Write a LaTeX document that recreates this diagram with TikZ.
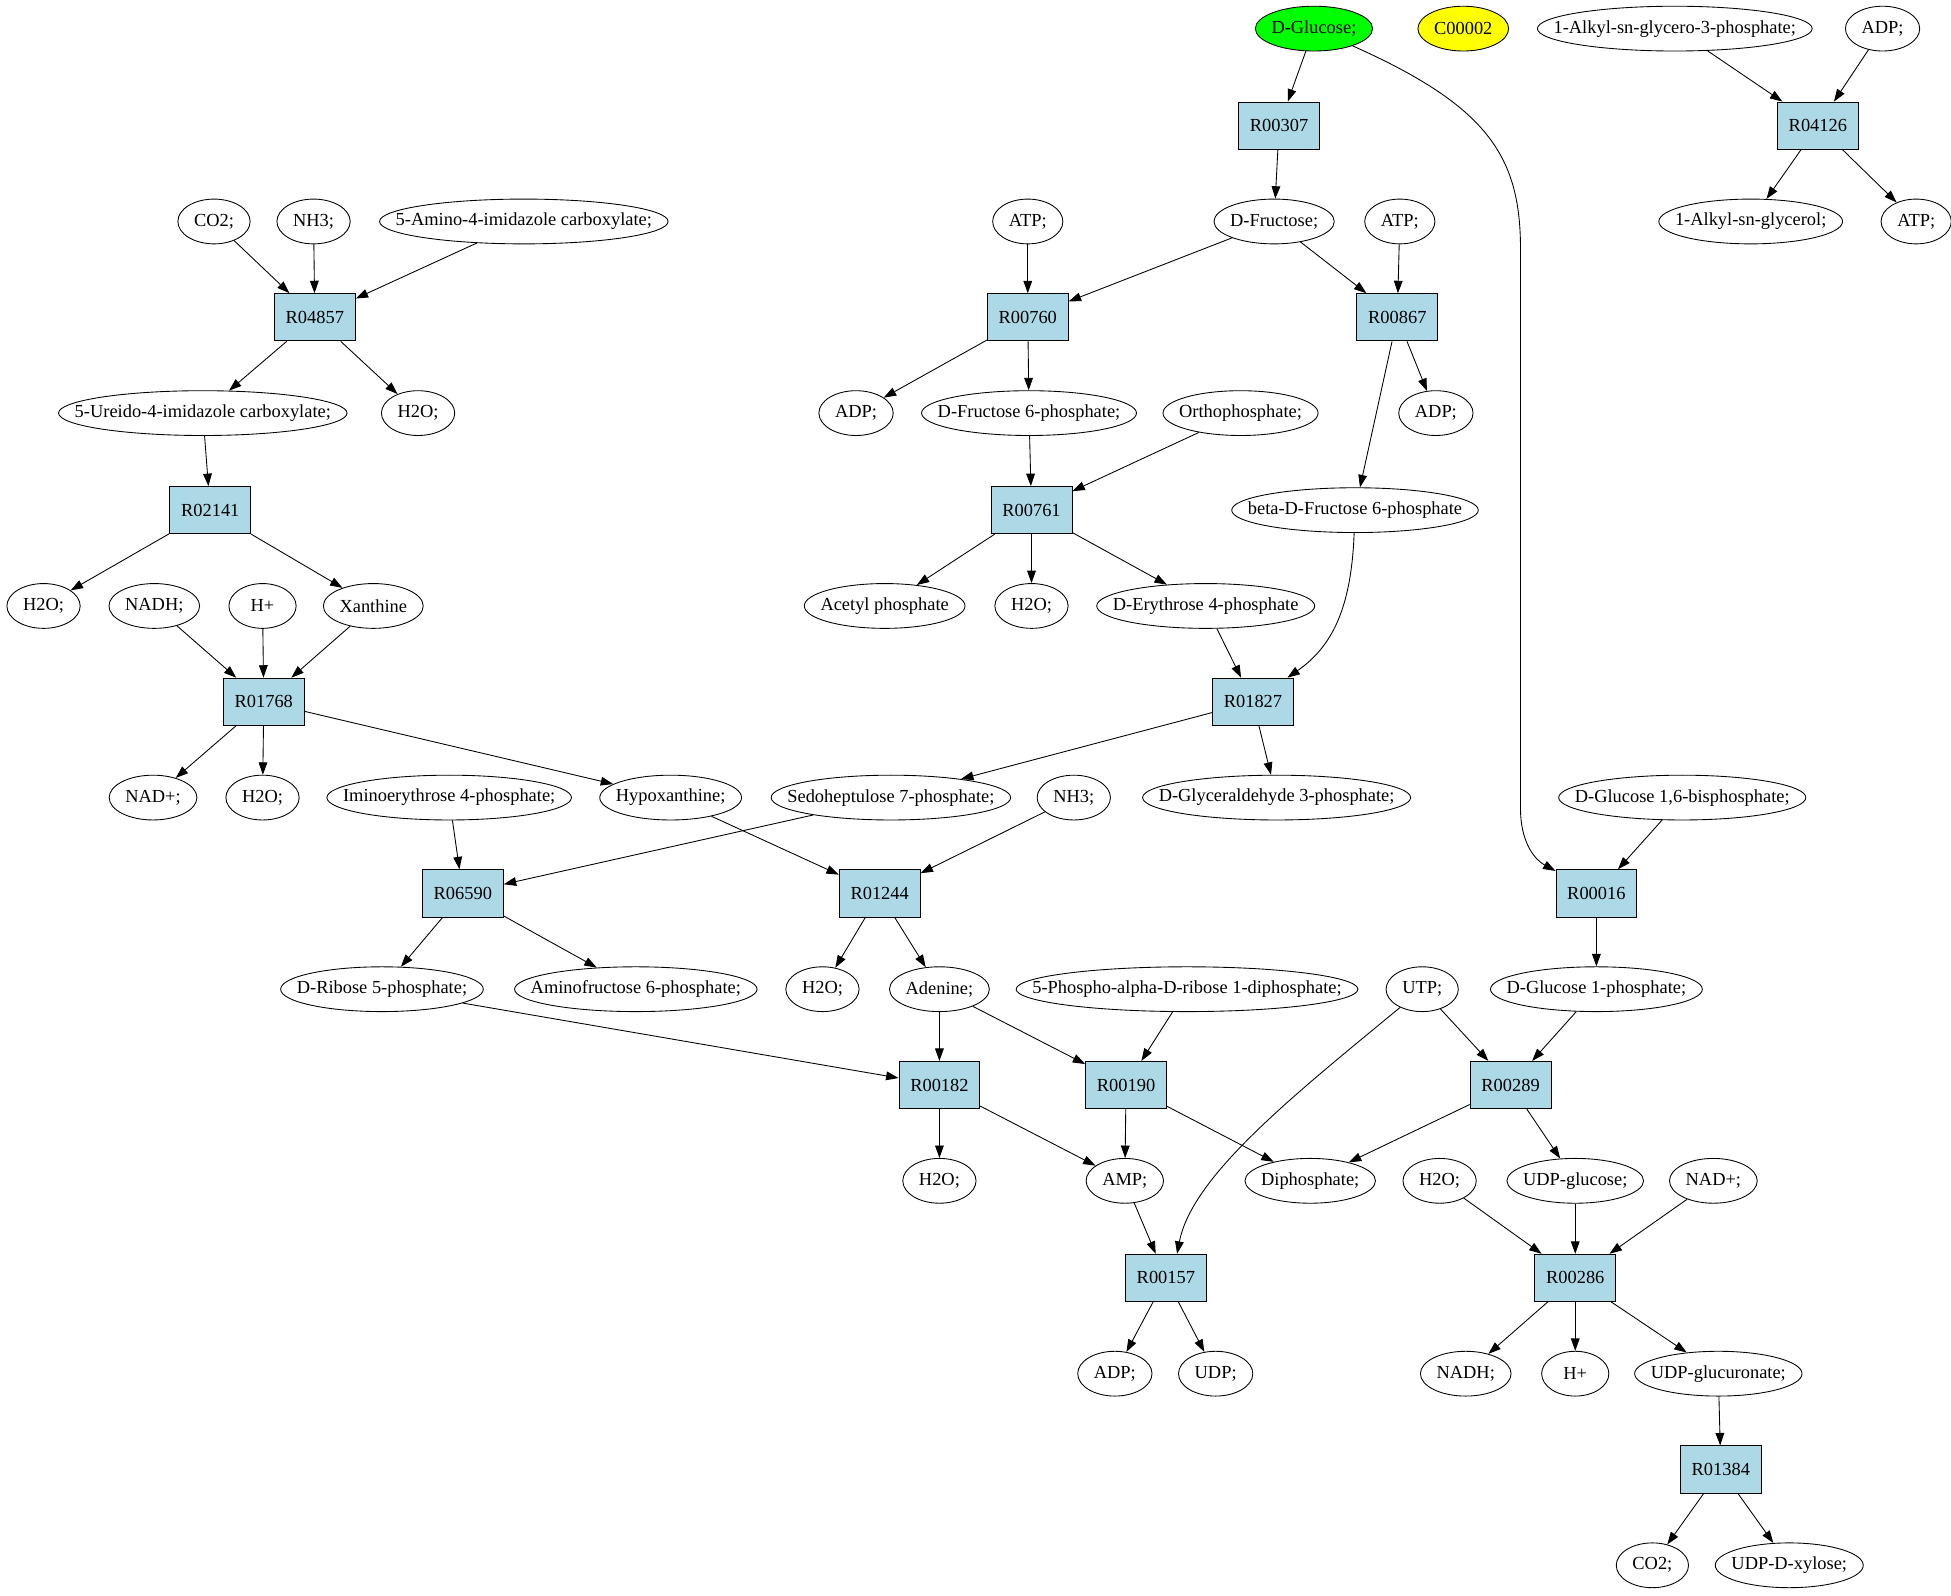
\documentclass[tikz,border=0pt]{standalone}
\usepackage{fontspec}
\setmainfont{Liberation Serif}
\usetikzlibrary{shapes.geometric,arrows.meta}

\definecolor{rxnblue}{HTML}{ADD8E6}
\definecolor{glcgreen}{HTML}{00FF00}
\definecolor{cpdyellow}{HTML}{FFFF00}

\tikzset{
  cpd/.style={ellipse, draw, line width=0.7pt, minimum height=36pt, minimum width=54pt,
    inner ysep=0pt, inner xsep={9.19pt-0.14645*\wd\pgfnodeparttextbox}},
  rxn/.style={rectangle, draw, line width=0.7pt, fill=rxnblue, minimum width=65pt,
    minimum height=38pt, inner sep=0pt},
  link/.style={line width=0.7pt, -{Triangle[length=10pt,width=7pt]}}
}

\begin{document}
\begin{tikzpicture}[x=1pt, y=-1pt, font=\fontsize{14.8}{17}\selectfont]
  \useasboundingbox (0,0) rectangle (1568,1282);

  % top row
  \node[cpd, fill=glcgreen] (glc) at (1056,23) {D-Glucose;};
  \node[cpd, fill=cpdyellow] (c00002) at (1176,23) {C00002};
  \node[cpd] (alkylgp) at (1346,23) {1-Alkyl-sn-glycero-3-phosphate;};
  \node[cpd] (adp1) at (1513,23) {ADP;};
  \node[rxn] (r00307) at (1028,101) {R00307};
  \node[rxn] (r04126) at (1461,101) {R04126};

  \node[cpd] (co2a) at (172,178) {CO2;};
  \node[cpd] (nh3a) at (252,178) {NH3;};
  \node[cpd] (amino) at (421,178) {5-Amino-4-imidazole carboxylate;};
  \node[cpd] (atp1) at (826,178) {ATP;};
  \node[cpd] (fru) at (1024,178) {D-Fructose;};
  \node[cpd] (atp2) at (1125,178) {ATP;};
  \node[cpd] (alkylg) at (1407,178) {1-Alkyl-sn-glycerol;};
  \node[cpd] (atp3) at (1540,178) {ATP;};
  \node[rxn] (r04857) at (253,255) {R04857};
  \node[rxn] (r00760) at (826,255) {R00760};
  \node[rxn] (r00867) at (1123,255) {R00867};

  \node[cpd] (ureido) at (163,332) {5-Ureido-4-imidazole carboxylate;};
  \node[cpd] (h2oa) at (336,332) {H2O;};
  \node[cpd] (adp2) at (688,332) {ADP;};
  \node[cpd] (f6p) at (827,332) {D-Fructose 6-phosphate;};
  \node[cpd] (ortho) at (997,332) {Orthophosphate;};
  \node[cpd] (adp3) at (1154,332) {ADP;};
  \node[rxn] (r02141) at (169,410) {R02141};
  \node[rxn] (r00761) at (829,410) {R00761};
  \node[cpd] (bf6p) at (1089,410) {beta-D-Fructose 6-phosphate};

  \node[cpd] (h2ob) at (35,487) {H2O;};
  \node[cpd] (nadh1) at (124,487) {NADH;};
  \node[cpd] (hplus1) at (211,487) {H+};
  \node[cpd] (xan) at (300,487) {Xanthine};
  \node[cpd] (acp) at (711,487) {Acetyl phosphate};
  \node[cpd] (h2oc) at (829,487) {H2O;};
  \node[cpd] (e4p) at (969,487) {D-Erythrose 4-phosphate};
  \node[rxn] (r01768) at (212,564) {R01768};
  \node[rxn] (r01827) at (1007,564) {R01827};

  \node[cpd] (nad1) at (123,641) {NAD+;};
  \node[cpd] (h2od) at (211,641) {H2O;};
  \node[cpd] (imino) at (361,641) {Iminoerythrose 4-phosphate;};
  \node[cpd] (hypo) at (539,641) {Hypoxanthine;};
  \node[cpd] (s7p) at (716,641) {Sedoheptulose 7-phosphate;};
  \node[cpd] (nh3b) at (863,641) {NH3;};
  \node[cpd] (g3p) at (1026,641) {D-Glyceraldehyde 3-phosphate;};
  \node[cpd] (gbp) at (1352,641) {D-Glucose 1,6-bisphosphate;};
  \node[rxn] (r06590) at (372,718) {R06590};
  \node[rxn] (r01244) at (707,718) {R01244};
  \node[rxn] (r00016) at (1283,718) {R00016};

  \node[cpd] (r5p) at (307,795) {D-Ribose 5-phosphate;};
  \node[cpd] (amf6p) at (511,795) {Aminofructose 6-phosphate;};
  \node[cpd] (h2oe) at (661,795) {H2O;};
  \node[cpd] (ade) at (755,795) {Adenine;};
  \node[cpd] (prpp) at (954,795) {5-Phospho-alpha-D-ribose 1-diphosphate;};
  \node[cpd] (utp) at (1143,795) {UTP;};
  \node[cpd] (g1p) at (1283,795) {D-Glucose 1-phosphate;};
  \node[rxn] (r00182) at (755,872) {R00182};
  \node[rxn] (r00190) at (905,872) {R00190};
  \node[rxn] (r00289) at (1214,872) {R00289};

  \node[cpd] (h2of) at (755,949) {H2O;};
  \node[cpd] (amp) at (904,949) {AMP;};
  \node[cpd] (dip) at (1053,949) {Diphosphate;};
  \node[cpd] (h2og) at (1157,949) {H2O;};
  \node[cpd] (udpg) at (1266,949) {UDP-glucose;};
  \node[cpd] (nad2) at (1377,949) {NAD+;};
  \node[rxn] (r00157) at (937,1027) {R00157};
  \node[rxn] (r00286) at (1266,1027) {R00286};

  \node[cpd] (adp4) at (896,1104) {ADP;};
  \node[cpd] (udp) at (977,1104) {UDP;};
  \node[cpd] (nadh2) at (1178,1104) {NADH;};
  \node[cpd] (hplus2) at (1266,1104) {H+};
  \node[cpd] (udpgla) at (1381,1104) {UDP-glucuronate;};
  \node[rxn] (r01384) at (1383,1181) {R01384};
  \node[cpd] (co2b) at (1328,1258) {CO2;};
  \node[cpd] (udpx) at (1438,1258) {UDP-D-xylose;};

  % straight links
  \foreach \a/\b in {glc/r00307, r00307/fru, alkylgp/r04126, adp1/r04126,
      r04126/alkylg, r04126/atp3, co2a/r04857, nh3a/r04857, amino/r04857,
      r04857/ureido, r04857/h2oa, atp1/r00760, fru/r00760, r00760/adp2,
      r00760/f6p, fru/r00867, atp2/r00867, r00867/adp3, r00867/bf6p,
      ureido/r02141, r02141/h2ob, r02141/xan, f6p/r00761, ortho/r00761,
      r00761/acp, r00761/h2oc, r00761/e4p, nadh1/r01768, hplus1/r01768,
      xan/r01768, r01768/nad1, r01768/h2od, r01768/hypo, e4p/r01827,
      r01827/s7p, r01827/g3p, imino/r06590, s7p/r06590, hypo/r01244,
      nh3b/r01244, gbp/r00016, r06590/r5p, r06590/amf6p, r01244/h2oe,
      r01244/ade, r00016/g1p, r5p/r00182, ade/r00182, ade/r00190,
      prpp/r00190, utp/r00289, g1p/r00289, r00182/h2of, r00182/amp,
      r00190/amp, r00190/dip, r00289/dip, r00289/udpg, amp/r00157,
      h2og/r00286, udpg/r00286, nad2/r00286, r00157/adp4, r00157/udp,
      r00286/nadh2, r00286/hplus2, r00286/udpgla, udpgla/r01384,
      r01384/co2b, r01384/udpx}
    \draw[link] (\a) -- (\b);

  % curved links
  \draw[link] (glc) .. controls (1195,85) and (1222,125) .. (1222,200)
    -- (1222,650) .. controls (1222,675) and (1232,690) .. (r00016);
  \draw[link] (bf6p) .. controls (1086,490) and (1070,520) .. (r01827);
  \draw[link] (utp) .. controls (1040,880) and (958,945) .. ([xshift=9pt]r00157.north);
\end{tikzpicture}
\end{document}
